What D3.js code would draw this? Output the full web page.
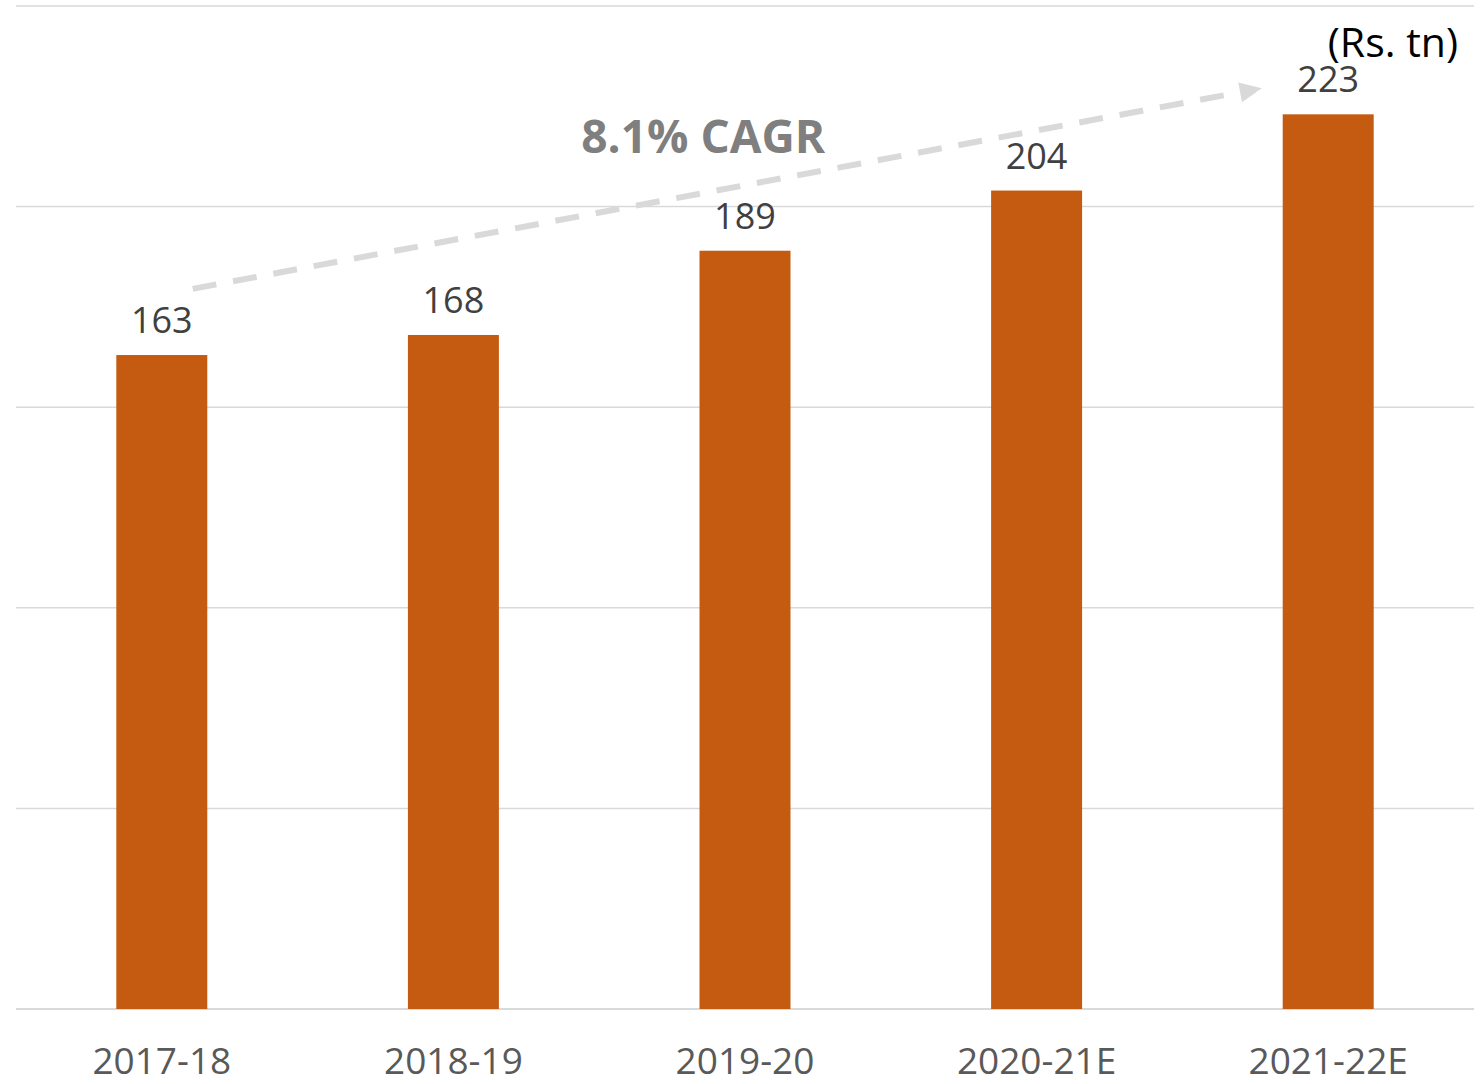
<!DOCTYPE html>
<html>
<head>
<meta charset="utf-8">
<script src="https://cdn.jsdelivr.net/npm/d3@7"></script>
<style>
  html, body { margin: 0; padding: 0; background: #ffffff; }
  svg { display: block; }
  text { font-family: "Open Sans", "Noto Sans", sans-serif; }
</style>
</head>
<body>
<svg id="chart" width="1483" height="1084"></svg>
<script>
// ---- Data ----
const categories = ["2017-18", "2018-19", "2019-20", "2020-21E", "2021-22E"];
const values = [163, 168, 189, 204, 223];
const gridTicks = [0, 50, 100, 150, 200, 250];
const unitLabel = "(Rs. tn)";
const cagrLabel = "8.1% CAGR";
// CAGR arrow annotation in data terms: category, offset within band (fraction of bandwidth from center), value
const cagrArrowStart = { cat: "2017-18", off: 0.34, value: 179.5 };
const cagrArrowEnd   = { cat: "2021-22E", off: -0.73, value: 229.5 };

// ---- Layout ----
const plot = { left: 16, right: 1474, top: 6, bottom: 1009 };

const svg = d3.select("#chart");

const x = d3.scaleBand()
  .domain(categories)
  .range([plot.left, plot.right])
  .paddingInner(0.688)
  .paddingOuter(0.344);

const y = d3.scaleLinear()
  .domain([0, 250])
  .range([plot.bottom, plot.top]);

// Gridlines
svg.append("g")
  .selectAll("line")
  .data(gridTicks)
  .join("line")
  .attr("x1", plot.left)
  .attr("x2", plot.right)
  .attr("y1", d => y(d))
  .attr("y2", d => y(d))
  .attr("stroke", "#d9d9d9")
  .attr("stroke-width", d => d === 0 ? 2 : 1.5);

// Bars
svg.append("g")
  .selectAll("rect")
  .data(values)
  .join("rect")
  .attr("x", (d, i) => x(categories[i]))
  .attr("width", x.bandwidth())
  .attr("y", d => y(d))
  .attr("height", d => y(0) - y(d))
  .attr("fill", "#C55A11");

// Value labels
svg.append("g")
  .selectAll("text")
  .data(values)
  .join("text")
  .attr("x", (d, i) => x(categories[i]) + x.bandwidth() / 2)
  .attr("y", d => y(d) - 22)
  .attr("text-anchor", "middle")
  .attr("font-size", 36)
  .attr("fill", "#404040")
  .text(d => d);

// X axis labels
const xAxis = d3.axisBottom(x).tickSize(0).tickPadding(0);
const gx = svg.append("g")
  .attr("transform", `translate(0,${plot.bottom})`)
  .call(xAxis);
gx.select(".domain").remove();
gx.selectAll("text")
  .attr("y", 65)
  .attr("dy", null)
  .attr("font-size", 37)
  .attr("font-family", "Open Sans, Noto Sans, sans-serif")
  .attr("fill", "#595959");

// CAGR arrow
const ax = p => x(p.cat) + x.bandwidth() / 2 + p.off * x.bandwidth();
const x1 = ax(cagrArrowStart), y1 = y(cagrArrowStart.value);
const tipX = ax(cagrArrowEnd), tipY = y(cagrArrowEnd.value);
const ang = Math.atan2(tipY - y1, tipX - x1);
const headLen = 22;
const x2 = tipX - Math.cos(ang) * headLen, y2 = tipY - Math.sin(ang) * headLen;

svg.append("line")
  .attr("x1", x1).attr("y1", y1)
  .attr("x2", x2).attr("y2", y2)
  .attr("stroke", "#d9d9d9")
  .attr("stroke-width", 6)
  .attr("stroke-dasharray", "24 17");

svg.append("path")
  .attr("d", () => {
    const hw = 10;
    const px = -Math.sin(ang) * hw, py = Math.cos(ang) * hw;
    return `M${tipX},${tipY} L${x2 + px},${y2 + py} L${x2 - px},${y2 - py} Z`;
  })
  .attr("fill", "#d9d9d9");

// CAGR label
svg.append("text")
  .attr("x", (x("2019-20") + x.bandwidth() / 2 + x("2018-19") + x.bandwidth() / 2) / 2 + 104)
  .attr("y", 153)
  .attr("text-anchor", "middle")
  .attr("font-size", 46)
  .attr("font-weight", "bold")
  .attr("fill", "#7f7f7f")
  .text(cagrLabel);

// Unit label
svg.append("text")
  .attr("x", 1458)
  .attr("y", 57)
  .attr("text-anchor", "end")
  .attr("font-size", 41)
  .attr("fill", "#000000")
  .text(unitLabel);
</script>
</body>
</html>
